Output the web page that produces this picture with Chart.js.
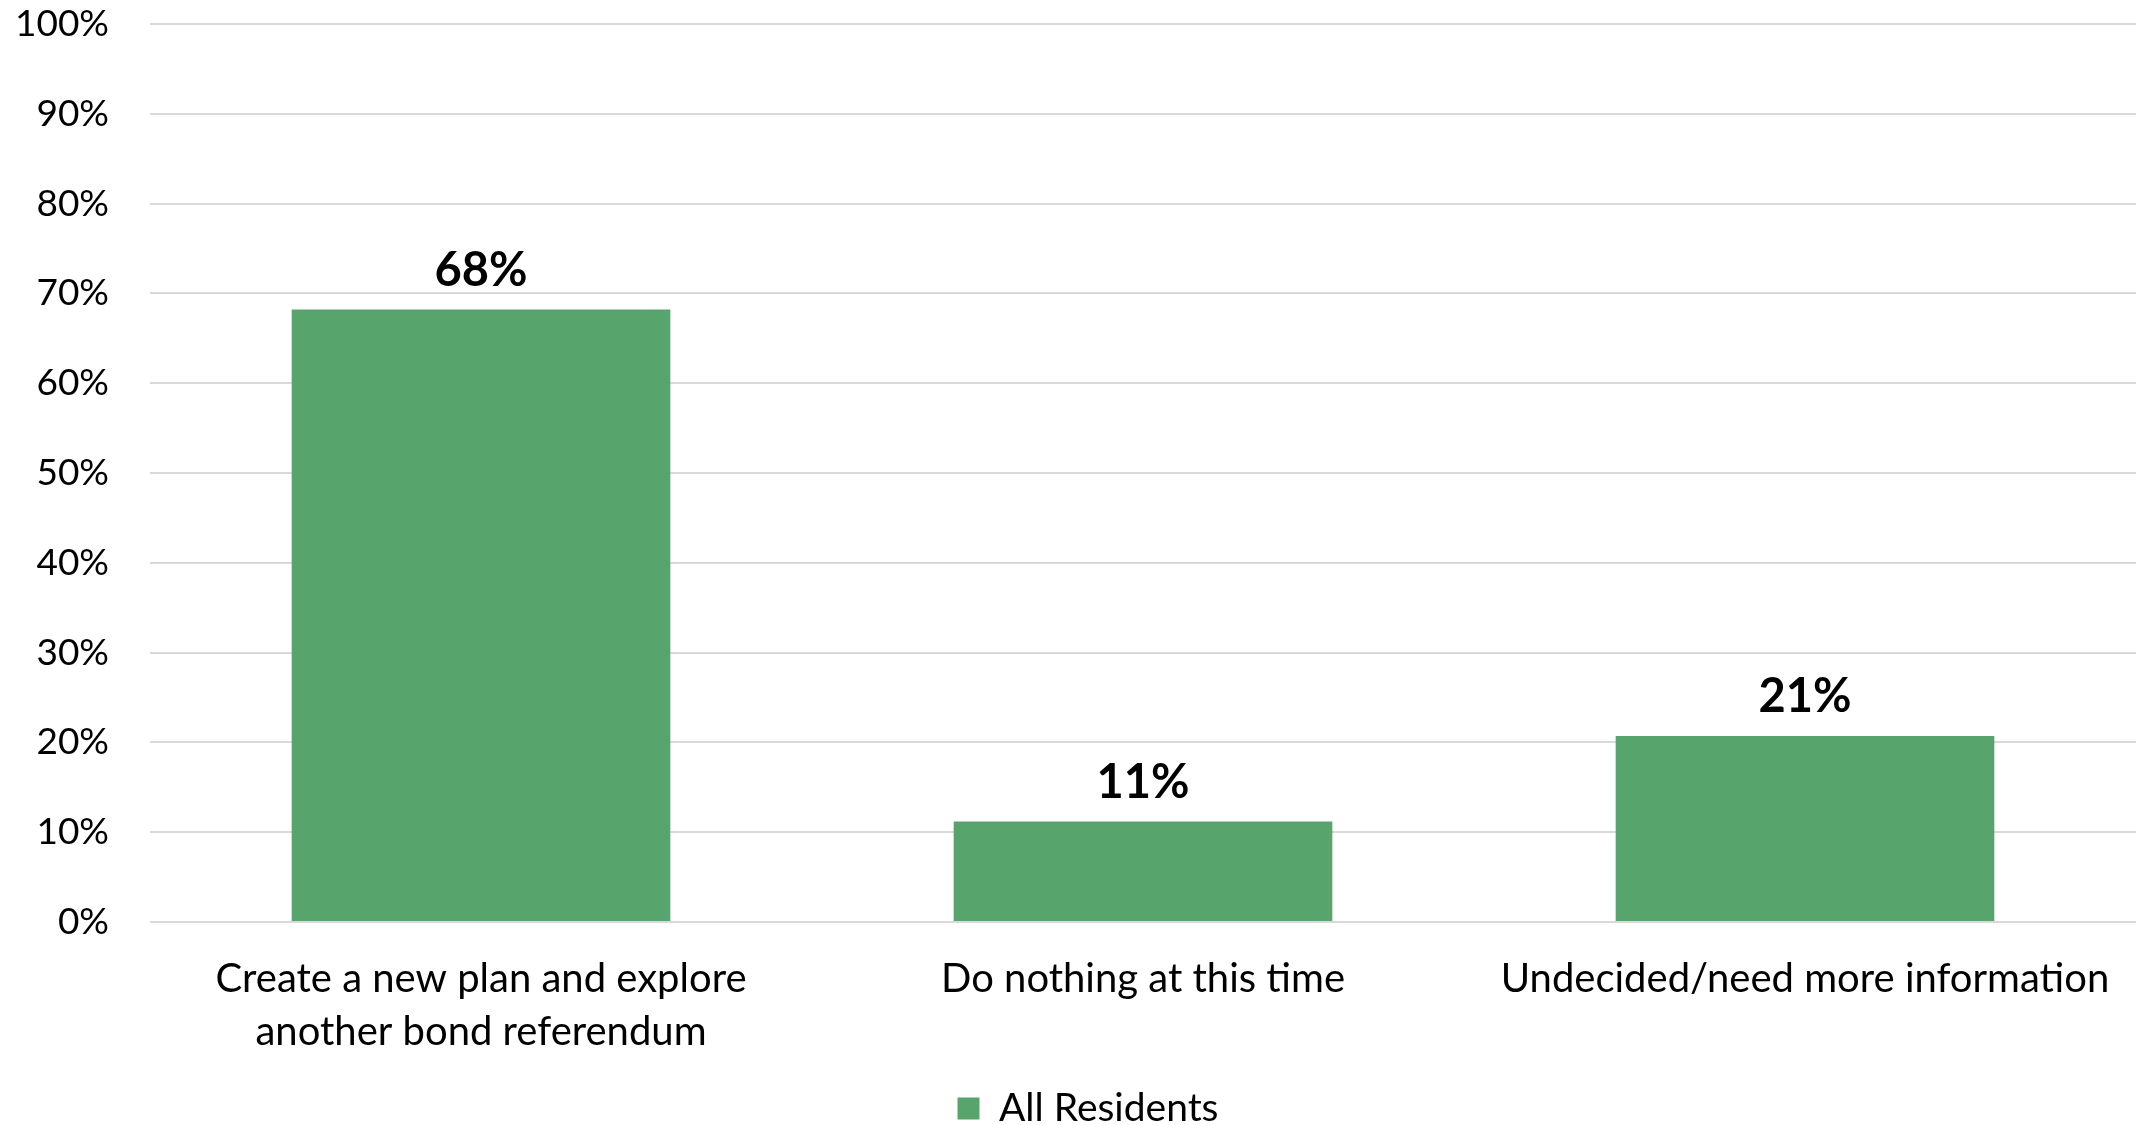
<!DOCTYPE html>
<html>
<head>
<meta charset="utf-8">
<title>Next steps after the bond referendum</title>
<script src="https://cdn.jsdelivr.net/npm/chart.js@4/dist/chart.umd.min.js"></script>
<style>
  html, body { margin: 0; padding: 0; background: #fff; }
  #chart { width: 2136px; height: 1125px; }
</style>
</head>
<body>
<div id="chart">
  <canvas id="barChart" width="2136" height="1125"></canvas>
</div>
<script>
  // answers, one bar each (multi-line labels are arrays)
  const answers = [
    ["Create a new plan and explore", "another bond referendum"],
    "Do nothing at this time",
    "Undecided/need more information",
  ];
  /** @type {Number[]} share of residents, percent */
  const shares = [68.2, 11.2, 20.7];
  const seriesName = "All Residents";
  /** @type {Number[]} y axis ticks */
  const yTicks = [0, 10, 20, 30, 40, 50, 60, 70, 80, 90, 100];

  const GREEN = "#58a46d";
  const GRID = "#d9d9d9";
  const FONT = "Lato";

  /**
   * Writes the rounded value above each bar
   */
  const barValueLabels = {
    id: "barValueLabels",
    afterDatasetsDraw: (chart) => {
      const ctx = chart.ctx;
      const meta = chart.getDatasetMeta(0);
      ctx.save();
      ctx.font = `bold 47px ${FONT}`;
      ctx.fillStyle = "#000";
      ctx.textAlign = "center";
      ctx.textBaseline = "middle";
      meta.data.forEach((bar, i) => {
        ctx.fillText(Math.round(shares[i]) + "%", bar.x, bar.y - 39);
      });
      ctx.restore();
    }
  };

  // the legend sits centred under the plot rather than the whole canvas
  const legendNudge = {
    id: "legendNudge",
    afterLayout: (chart) => {
      chart.legend.left += 20;
      chart.legend.right += 20;
    }
  };

  new Chart(document.getElementById("barChart"), {
    type: "bar",
    data: {
      labels: answers,
      datasets: [
        {
          label: seriesName,
          data: shares,
          backgroundColor: GREEN,
          borderWidth: 0,
          barPercentage: 0.572,
          categoryPercentage: 1,
        },
      ],
    },
    options: {
      responsive: false,
      animation: false,
      layout: { padding: { top: 24, right: 0, bottom: -13, left: 0 } },
      plugins: {
        legend: {
          position: "bottom",
          labels: {
            font: { family: FONT, size: 39 },
            color: "#000",
            boxWidth: 22,
            boxHeight: 22,
            padding: 31,
          }
        },
        tooltip: { enabled: false },
      },
      scales: {
        x: {
          grid: { display: false, drawTicks: false },
          border: { display: false },
          ticks: {
            font: { family: FONT, size: 40, lineHeight: 1.33 },
            color: "#000",
            padding: 30,
            maxRotation: 0,
            autoSkip: false,
          },
          afterFit: (scale) => {
            scale.paddingLeft = 0;
            scale.paddingRight = 0;
            scale.height = 136;
          }
        },
        y: {
          min: 0,
          max: 100,
          grid: { color: GRID, lineWidth: 2, drawTicks: false },
          border: { display: false },
          afterBuildTicks: (scale) => {
            scale.ticks = yTicks.map(v => ({ value: v }));
          },
          ticks: {
            font: { family: FONT, size: 37 },
            color: "#000",
            padding: 41,
            callback: (v) => v + "%",
          },
          afterFit: (scale) => {
            scale.width = 150;
            scale.paddingTop = 0;
            scale.paddingBottom = 0;
          }
        }
      }
    },
    plugins: [barValueLabels, legendNudge],
  });
</script>
</body>
</html>
